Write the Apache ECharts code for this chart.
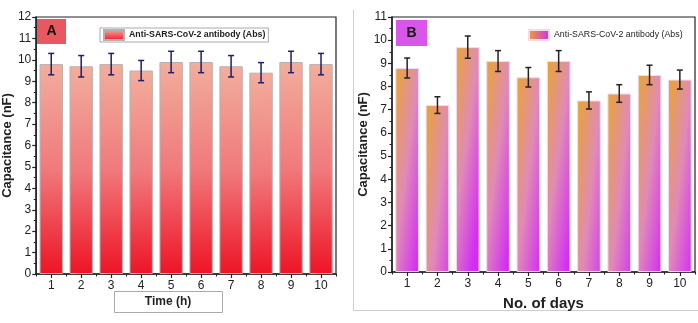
<!DOCTYPE html>
<html>
<head>
<meta charset="utf-8">
<style>
  html, body { margin: 0; padding: 0; background: #fff; }
  #chart { width: 698px; height: 323px; }
</style>
<script src="https://cdn.jsdelivr.net/npm/echarts@6/dist/echarts.min.js"></script>
</head>
<body>
<div id="chart"></div>
<script>
// Panel A: capacitance over time (hours)
const hoursLabels = ['1', '2', '3', '4', '5', '6', '7', '8', '9', '10'];
const hoursValues = [9.8, 9.7, 9.8, 9.5, 9.9, 9.9, 9.7, 9.4, 9.9, 9.8];
const hoursErrors = [0.5, 0.5, 0.5, 0.47, 0.5, 0.5, 0.5, 0.47, 0.5, 0.5];

// Panel B: capacitance over storage days
const daysLabels = ['1', '2', '3', '4', '5', '6', '7', '8', '9', '10'];
const daysValues = [8.8, 7.2, 9.7, 9.1, 8.4, 9.1, 7.4, 7.7, 8.5, 8.3];
const daysErrors = [0.43, 0.36, 0.48, 0.45, 0.42, 0.45, 0.37, 0.38, 0.42, 0.41];

const seriesName = 'Anti-SARS-CoV-2 antibody (Abs)';
const FONT = 'Liberation Sans, Arial, sans-serif';

const redFill = new echarts.graphic.LinearGradient(0, 0, 0, 1, [
  { offset: 0, color: '#f2ae9c' },
  { offset: 0.5, color: '#f07a7c' },
  { offset: 1, color: '#ee1426' }
]);
const violetFill = new echarts.graphic.LinearGradient(0, 0, 2, 0.03, [
  { offset: 0, color: '#eaa52e' },
  { offset: 0.5, color: '#e08ab8' },
  { offset: 1, color: '#d22cf6' }
]);
const redLegend = new echarts.graphic.LinearGradient(0, 0, 0, 1, [
  { offset: 0, color: '#f2ae9c' },
  { offset: 1, color: '#ee1426' }
]);
const violetLegend = new echarts.graphic.LinearGradient(0, 0, 1, 0, [
  { offset: 0, color: '#e9a531' },
  { offset: 1, color: '#d22cf6' }
]);

function errorBars(values, errors, color) {
  return function (params, api) {
    const i = api.value(0);
    const v = values[i];
    const e = errors[i];
    const top = api.coord([i, v + e]);
    const bot = api.coord([i, v - e]);
    const cap = 3;
    const style = { stroke: color, lineWidth: 1.5 };
    return {
      type: 'group',
      children: [
        { type: 'line', shape: { x1: top[0], y1: top[1], x2: bot[0], y2: bot[1] }, style },
        { type: 'line', shape: { x1: top[0] - cap, y1: top[1], x2: top[0] + cap, y2: top[1] }, style },
        { type: 'line', shape: { x1: bot[0] - cap, y1: bot[1], x2: bot[0] + cap, y2: bot[1] }, style }
      ]
    };
  };
}

function yAxisFor(gridIndex, max, nameGap) {
  return {
    type: 'value', gridIndex, min: 0, max, interval: 1,
    name: 'Capacitance (nF)', nameLocation: 'middle', nameGap,
    nameTextStyle: { fontFamily: FONT, fontWeight: 'bold', fontSize: 13, color: '#222' },
    axisLine: { show: true, lineStyle: { color: '#222', width: 1.5 } },
    axisTick: { show: true, length: 4, lineStyle: { color: '#222', width: 1.2 } },
    minorTick: { show: true, splitNumber: 2, length: 2.5, lineStyle: { color: '#222', width: 1 } },
    axisLabel: { fontFamily: FONT, fontSize: 12, color: '#222', margin: 5 },
    splitLine: { show: false }
  };
}

function xAxesFor(gridIndex, labels, extra) {
  return [
    Object.assign({
      type: 'category', gridIndex, data: labels, boundaryGap: true,
      axisLine: { show: true, lineStyle: { color: '#222', width: 1.5 } },
      axisTick: { show: true, alignWithLabel: true, length: 4, lineStyle: { color: '#222', width: 1.2 } },
      axisLabel: { fontFamily: FONT, fontSize: 12, color: '#222', margin: 6 }
    }, extra || {}),
    {
      type: 'category', gridIndex, data: labels, boundaryGap: true, position: 'bottom',
      axisLine: { show: false },
      axisTick: { show: true, alignWithLabel: false, length: 2.5, lineStyle: { color: '#222', width: 1 } },
      axisLabel: { show: false }
    }
  ];
}

const chart = echarts.init(document.getElementById('chart'), null, { renderer: 'canvas' });

chart.setOption({
  animation: false,
  backgroundColor: '#fff',
  grid: [
    { left: 35, top: 17, right: 362, bottom: 49, show: true, borderColor: '#222', borderWidth: 1.2, backgroundColor: 'transparent' },
    { left: 392, top: 17, right: 3, bottom: 51, show: true, borderColor: '#222', borderWidth: 1.2, backgroundColor: 'transparent' }
  ],
  legend: [
    {
      data: [{ name: seriesName + ' ', itemStyle: { color: redLegend } }],
      left: 100, top: 28, padding: [1, 3, 1, 3],
      icon: 'rect', itemWidth: 20, itemHeight: 10, itemGap: 4,
      backgroundColor: '#fff', borderColor: '#aaa', borderWidth: 1,
      formatter: () => seriesName,
      textStyle: { fontFamily: FONT, fontWeight: 'bold', fontSize: 8.8, color: '#222' },
      selectedMode: false
    },
    {
      data: [{ name: seriesName, itemStyle: { color: violetLegend } }],
      left: 523, top: 24,
      icon: 'rect', itemWidth: 20, itemHeight: 10, itemGap: 4,
      textStyle: { fontFamily: FONT, fontSize: 8.8, color: '#222' },
      selectedMode: false
    }
  ],
  xAxis: [
    ...xAxesFor(0, hoursLabels),
    ...xAxesFor(1, daysLabels, {
      name: 'No. of days', nameLocation: 'middle', nameGap: 24,
      nameTextStyle: { fontFamily: FONT, fontWeight: 'bold', fontSize: 15, color: '#222' }
    })
  ],
  yAxis: [yAxisFor(0, 12, 20), yAxisFor(1, 11, 22)],
  series: [
    {
      name: seriesName + ' ', type: 'bar', xAxisIndex: 0, yAxisIndex: 0,
      data: hoursValues, barWidth: '78%',
      itemStyle: { color: redFill, borderColor: '#b8b0b0', borderWidth: 1 }
    },
    {
      type: 'custom', xAxisIndex: 0, yAxisIndex: 0, z: 5,
      data: hoursValues.map((v, i) => [i, v]),
      renderItem: errorBars(hoursValues, hoursErrors, '#1f1f6e')
    },
    {
      name: seriesName, type: 'bar', xAxisIndex: 2, yAxisIndex: 1,
      data: daysValues, barWidth: '78%',
      itemStyle: { color: violetFill, borderColor: '#f4d8ee', borderWidth: 1 }
    },
    {
      type: 'custom', xAxisIndex: 2, yAxisIndex: 1, z: 5,
      data: daysValues.map((v, i) => [i, v]),
      renderItem: errorBars(daysValues, daysErrors, '#222')
    }
  ],
  graphic: [
    // panel tags
    { type: 'rect', shape: { x: 37, y: 19, width: 29, height: 25 }, style: { fill: '#e95860' }, z: 10 },
    { type: 'text', x: 51.5, y: 31.5, style: { text: 'A', fontFamily: FONT, fontWeight: 'bold', fontSize: 14, fill: '#111', align: 'center', verticalAlign: 'middle' }, z: 11 },
    { type: 'rect', shape: { x: 396, y: 20, width: 31, height: 26 }, style: { fill: '#d857ea' }, z: 10 },
    { type: 'text', x: 411.5, y: 33, style: { text: 'B', fontFamily: FONT, fontWeight: 'bold', fontSize: 14, fill: '#111', align: 'center', verticalAlign: 'middle' }, z: 11 },
    // time axis title box
    { type: 'rect', shape: { x: 114.5, y: 291.5, width: 108, height: 21 }, style: { fill: '#fff', stroke: '#aaa', lineWidth: 1 } },
    { type: 'text', x: 168, y: 302, style: { text: 'Time (h)', fontFamily: FONT, fontWeight: 'bold', fontSize: 12, fill: '#222', align: 'center', verticalAlign: 'middle' } },
    // frame around the right panel
    { type: 'line', shape: { x1: 353.5, y1: 10, x2: 353.5, y2: 310.5 }, style: { stroke: '#cfcfcf', lineWidth: 1 } },
    { type: 'line', shape: { x1: 353.5, y1: 310.5, x2: 698, y2: 310.5 }, style: { stroke: '#cfcfcf', lineWidth: 1 } }
  ]
});
</script>
</body>
</html>
